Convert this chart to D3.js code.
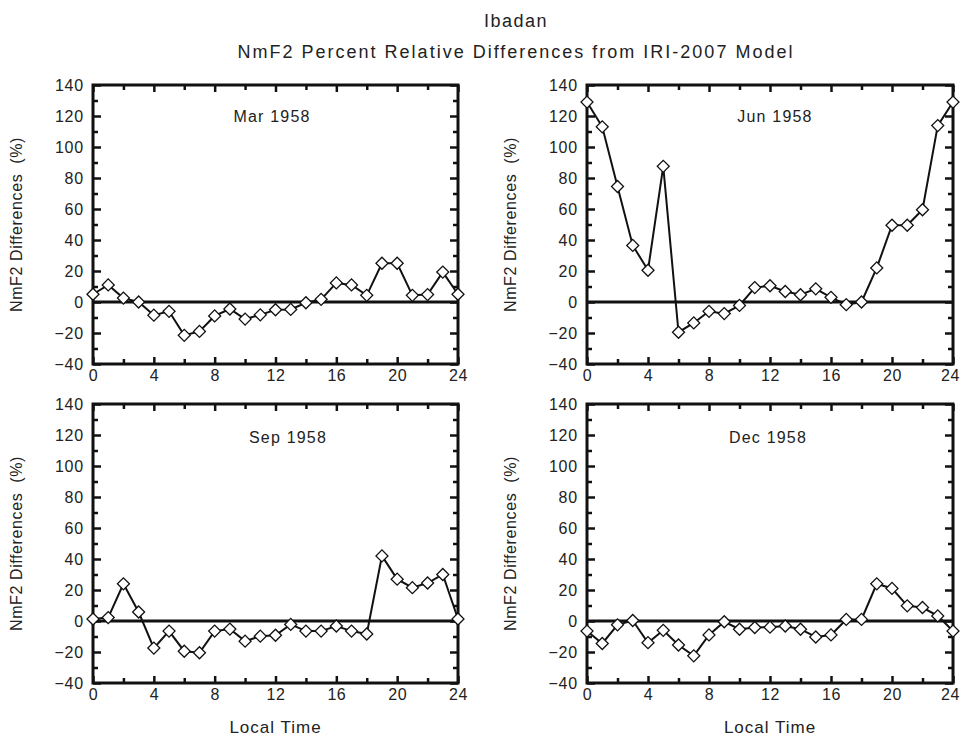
<!DOCTYPE html>
<html>
<head>
<meta charset="utf-8">
<script src="https://cdn.jsdelivr.net/npm/d3@7"></script>
<style>
  body { margin: 0; background: #fff; }
  svg { font-family: "Liberation Sans", Arial, sans-serif; }
</style>
</head>
<body>
<svg></svg>
<script>
// Chart data
const hours = d3.range(0, 25);
const marValues = [5, 11, 2.5, 0, -8.5, -6, -21.5, -19, -9, -4.5, -11, -8.3, -5, -4.8, -0.5, 1.7, 12.3, 11, 4.3, 25, 25, 4.3, 4.8, 19.3, 5];
const junValues = [129, 113, 74.5, 36.5, 20.5, 87.5, -19.5, -13.5, -6, -7.5, -2.2, 9.3, 10.5, 6.8, 4.7, 8.5, 3, -1.7, 0, 22, 49.5, 49.5, 59.5, 113.8, 129];
const sepValues = [1.3, 2.2, 24, 5.8, -17.5, -6.5, -19.5, -20.5, -6.5, -5.2, -13, -9.8, -9.2, -2.2, -6.5, -6.5, -3.2, -6.5, -8.4, 42, 27, 21.5, 24.5, 30, 1.3];
const decValues = [-6.5, -14.5, -2.5, 0.3, -14, -6, -15.5, -22.5, -9, -0.5, -5.3, -4.2, -4, -3.2, -5.3, -10.3, -9, 1, 1, 24, 21, 9.8, 8.7, 3.3, -6.5];
const monthLabels = ["Mar 1958", "Jun 1958", "Sep 1958", "Dec 1958"];
const xTicks = [0, 4, 8, 12, 16, 20, 24];
const yTicks = [-40, -20, 0, 20, 40, 60, 80, 100, 120, 140];

const width = 961;
const height = 738;

const svg = d3.select("svg")
    .attr("width", width)
    .attr("height", height)
    .attr("viewBox", [0, 0, width, height]);

// Titles
svg.append("text")
    .attr("x", 516).attr("y", 27)
    .attr("text-anchor", "middle")
    .attr("font-size", 18).attr("letter-spacing", 1.5).attr("fill", "#222")
    .text("Ibadan");
svg.append("text")
    .attr("x", 516).attr("y", 58)
    .attr("text-anchor", "middle")
    .attr("font-size", 18).attr("letter-spacing", 2).attr("fill", "#222")
    .text("NmF2 Percent Relative Differences from IRI-2007 Model");

// panel boxes: left, right, top, bottom
const panels = [
  {values: marValues, label: monthLabels[0], x0: 93, x1: 458, y0: 85, y1: 364, lx: 272, ly: 122, xlabel: false},
  {values: junValues, label: monthLabels[1], x0: 587, x1: 953, y0: 85, y1: 364, lx: 775, ly: 122, xlabel: false},
  {values: sepValues, label: monthLabels[2], x0: 93, x1: 458, y0: 404, y1: 683, lx: 288, ly: 443, xlabel: true},
  {values: decValues, label: monthLabels[3], x0: 587, x1: 953, y0: 404, y1: 683, lx: 768, ly: 443, xlabel: true}
];

const diamond = d3.symbol(d3.symbolSquare, 72);

panels.forEach(p => {
  const x = d3.scaleLinear([0, 24], [p.x0, p.x1]);
  const y = d3.scaleLinear([-40, 140], [p.y1, p.y0]);
  const g = svg.append("g");

  // minor ticks
  const minorX = d3.range(0, 25, 2).filter(v => v % 4 !== 0);
  const minorY = d3.range(-40, 141, 10).filter(v => v % 20 !== 0);

  const styleAxis = a => a.call(s => s.select(".domain").remove())
      .call(s => s.selectAll(".tick line").attr("stroke", "#111").attr("stroke-width", 2.5))
      .call(s => s.selectAll(".tick text").attr("font-size", 16).attr("fill", "#222"));

  // bottom axis with labels
  g.append("g")
      .attr("transform", `translate(0,${p.y1})`)
      .call(d3.axisBottom(x).tickValues(xTicks).tickSize(-7).tickPadding(6).tickFormat(d3.format("d")))
      .call(styleAxis)
      .call(s => s.selectAll(".tick text").attr("letter-spacing", 0.5)
          .attr("dx", d => (d === 24 && p.x1 > 900) ? -3 : 0));
  g.append("g")
      .attr("transform", `translate(0,${p.y1})`)
      .call(d3.axisBottom(x).tickValues(minorX).tickSize(-5).tickFormat(""))
      .call(styleAxis);
  // top ticks
  g.append("g")
      .attr("transform", `translate(0,${p.y0})`)
      .call(d3.axisTop(x).tickValues(xTicks).tickSize(-7).tickFormat(""))
      .call(styleAxis);
  g.append("g")
      .attr("transform", `translate(0,${p.y0})`)
      .call(d3.axisTop(x).tickValues(minorX).tickSize(-5).tickFormat(""))
      .call(styleAxis);
  // left axis with labels
  g.append("g")
      .attr("transform", `translate(${p.x0},0)`)
      .call(d3.axisLeft(y).tickValues(yTicks).tickSize(-8).tickPadding(5))
      .call(styleAxis)
      .call(s => s.selectAll(".tick text").attr("x", -9).attr("letter-spacing", 0.8));
  g.append("g")
      .attr("transform", `translate(${p.x0},0)`)
      .call(d3.axisLeft(y).tickValues(minorY).tickSize(-5).tickFormat(""))
      .call(styleAxis);
  // right ticks
  g.append("g")
      .attr("transform", `translate(${p.x1},0)`)
      .call(d3.axisRight(y).tickValues(yTicks).tickSize(-8).tickFormat(""))
      .call(styleAxis);
  g.append("g")
      .attr("transform", `translate(${p.x1},0)`)
      .call(d3.axisRight(y).tickValues(minorY).tickSize(-5).tickFormat(""))
      .call(styleAxis);

  // frame
  g.append("rect")
      .attr("x", p.x0).attr("y", p.y0)
      .attr("width", p.x1 - p.x0).attr("height", p.y1 - p.y0)
      .attr("fill", "none").attr("stroke", "#111").attr("stroke-width", 3);

  // zero line
  g.append("line")
      .attr("x1", p.x0).attr("x2", p.x1)
      .attr("y1", y(0)).attr("y2", y(0))
      .attr("stroke", "#111").attr("stroke-width", 3);

  // data line
  const line = d3.line()
      .x((d, i) => x(hours[i]))
      .y(d => y(d));
  g.append("path")
      .datum(p.values)
      .attr("fill", "none")
      .attr("stroke", "#111")
      .attr("stroke-width", 2)
      .attr("d", line);

  // diamond markers
  g.selectAll(".pt")
    .data(p.values)
    .join("path")
      .attr("class", "pt")
      .attr("transform", (d, i) => `translate(${x(hours[i])},${y(d)}) rotate(45)`)
      .attr("d", diamond)
      .attr("fill", "#fff")
      .attr("stroke", "#111")
      .attr("stroke-width", 1.3);

  // month label
  g.append("text")
      .attr("x", p.lx).attr("y", p.ly)
      .attr("text-anchor", "middle")
      .attr("font-size", 16).attr("letter-spacing", 1.2).attr("fill", "#222")
      .text(p.label);

  // y axis title
  const cy = (p.y0 + p.y1) / 2;
  const tx = p.x0 - 71;
  g.append("text")
      .attr("transform", `translate(${tx},${cy}) rotate(-90)`)
      .attr("text-anchor", "middle")
      .attr("font-size", 16).attr("letter-spacing", 0.6).attr("fill", "#222")
      .attr("xml:space", "preserve")
      .text("NmF2 Differences  (%)");

  if (p.xlabel) {
    g.append("text")
        .attr("x", (p.x0 + p.x1) / 2).attr("y", 733)
        .attr("text-anchor", "middle")
        .attr("font-size", 17).attr("letter-spacing", 1).attr("fill", "#222")
        .text("Local Time");
  }
});
</script>
</body>
</html>
